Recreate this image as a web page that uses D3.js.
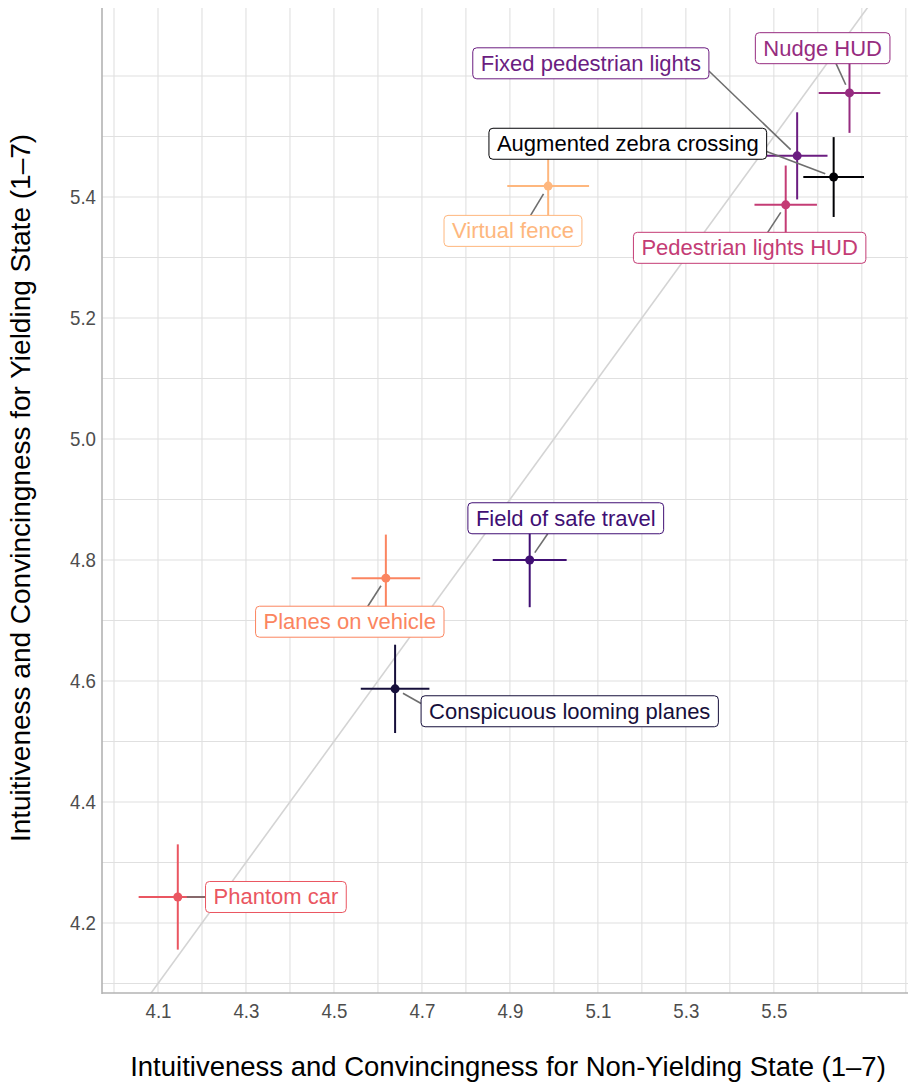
<!DOCTYPE html>
<html>
<head>
<meta charset="utf-8">
<script src="https://cdn.jsdelivr.net/npm/d3@7"></script>
<style>
  body { margin: 0; background: #fff; }
  text { font-family: "Liberation Sans", Arial, sans-serif; }
  .tick-label { font-family: "Liberation Sans", Arial, sans-serif; fill: #4d4d4d; font-size: 21px; }
</style>
</head>
<body>
<svg id="chart"></svg>
<script>
// concepts, alphabetical (colour order follows this)
const concepts = ["Augmented zebra crossing", "Conspicuous looming planes", "Field of safe travel",
  "Fixed pedestrian lights", "Nudge HUD", "Pedestrian lights HUD", "Phantom car",
  "Planes on vehicle", "Virtual fence"];
// mean rating, non-yielding state (x) and yielding state (y)
const nonYielding = [5.636, 4.639, 4.945, 5.553, 5.672, 5.527, 4.145, 4.618, 4.987];
const yielding    = [5.433, 4.587, 4.800, 5.468, 5.572, 5.387, 4.243, 4.770, 5.418];
// error bar half widths
const errX = [0.069, 0.078, 0.084, 0.069, 0.070, 0.071, 0.089, 0.078, 0.093];
const errY = [0.066, 0.073, 0.078, 0.072, 0.066, 0.065, 0.087, 0.072, 0.075];
// where the repelled labels ended up (data units)
const labelX = [5.168, 5.036, 5.027, 5.084, 5.611, 5.445, 4.368, 4.536, 4.907];
const labelY = [5.488, 4.550, 4.869, 5.621, 5.646, 5.316, 4.243, 4.698, 5.344];

const xTicks = [4.1, 4.3, 4.5, 4.7, 4.9, 5.1, 5.3, 5.5];
const yTicks = [4.2, 4.4, 4.6, 4.8, 5.0, 5.2, 5.4];
const xGrid = d3.range(40, 59).map(d => d / 10);
const yGrid = d3.range(41, 57).map(d => d / 10);

const width = 908, height = 1084;
const margin = {top: 8, right: 0, bottom: 91, left: 102};

const svg = d3.select('#chart').attr('width', width).attr('height', height);

const x = d3.scaleLinear().domain([3.9727, 5.805]).range([margin.left, width - margin.right]);
const y = d3.scaleLinear().domain([4.0843, 5.7124]).range([height - margin.bottom, margin.top]);

const colour = d3.scaleOrdinal()
  .domain(concepts)
  .range(concepts.map((c, i) => d3.interpolateMagma(i / (concepts.length - 1) * 0.85)));

svg.append('defs').append('clipPath').attr('id', 'panel')
  .append('rect')
  .attr('x', margin.left).attr('y', margin.top)
  .attr('width', width - margin.left - margin.right)
  .attr('height', height - margin.top - margin.bottom);

// grid
const grid = svg.append('g').attr('stroke', '#e0e0e0').attr('stroke-width', 1.1);
grid.selectAll('.vg').data(xGrid).join('line')
  .attr('x1', d => x(d)).attr('x2', d => x(d))
  .attr('y1', margin.top).attr('y2', height - margin.bottom);
grid.selectAll('.hg').data(yGrid).join('line')
  .attr('y1', d => y(d)).attr('y2', d => y(d))
  .attr('x1', margin.left).attr('x2', width - margin.right);

const panel = svg.append('g').attr('clip-path', 'url(#panel)');

// identity line
panel.append('line')
  .attr('x1', x(3.9)).attr('y1', y(3.9))
  .attr('x2', x(6)).attr('y2', y(6))
  .attr('stroke', '#d4d4d4').attr('stroke-width', 1.6);

// axes lines
svg.append('line').attr('x1', margin.left).attr('x2', margin.left)
  .attr('y1', margin.top).attr('y2', height - margin.bottom + 1)
  .attr('stroke', '#b3b3b3').attr('stroke-width', 1.6);
svg.append('line').attr('x1', margin.left).attr('x2', width)
  .attr('y1', height - margin.bottom).attr('y2', height - margin.bottom)
  .attr('stroke', '#b3b3b3').attr('stroke-width', 1.6);

// tick labels (narrow, like the original)
const xAxis = d3.axisBottom(x).tickValues(xTicks).tickSize(0).tickPadding(10).tickFormat(d3.format('.1f'));
const yAxis = d3.axisLeft(y).tickValues(yTicks).tickSize(0).tickPadding(6).tickFormat(d3.format('.1f'));
const gx = svg.append('g').attr('transform', `translate(0,${height - margin.bottom})`).call(xAxis);
const gy = svg.append('g').attr('transform', `translate(${margin.left},0)`).call(yAxis);
[gx, gy].forEach(g => {
  g.select('.domain').remove();
  g.selectAll('text').attr('class', 'tick-label').attr('fill', null)
    .attr('textLength', 26).attr('lengthAdjust', 'spacingAndGlyphs');
});

// axis titles
svg.append('text')
  .attr('x', 508).attr('y', 1076)
  .attr('text-anchor', 'middle').attr('font-size', 27.5).attr('fill', '#000')
  .text('Intuitiveness and Convincingness for Non-Yielding State (1–7)');
svg.append('text')
  .attr('transform', 'translate(30,488) rotate(-90)')
  .attr('text-anchor', 'middle').attr('font-size', 28).attr('fill', '#000')
  .text('Intuitiveness and Convincingness for Yielding State (1–7)');

const rows = concepts.map((c, i) => ({
  name: c, x: nonYielding[i], y: yielding[i], ex: errX[i], ey: errY[i], lx: labelX[i], ly: labelY[i]
}));

// error bars and points
const marks = panel.append('g');
marks.selectAll('.eh').data(rows).join('line')
  .attr('x1', d => x(d.x - d.ex)).attr('x2', d => x(d.x + d.ex))
  .attr('y1', d => y(d.y)).attr('y2', d => y(d.y))
  .attr('stroke', d => colour(d.name)).attr('stroke-width', 2);
marks.selectAll('.ev').data(rows).join('line')
  .attr('x1', d => x(d.x)).attr('x2', d => x(d.x))
  .attr('y1', d => y(d.y - d.ey)).attr('y2', d => y(d.y + d.ey))
  .attr('stroke', d => colour(d.name)).attr('stroke-width', 2);
marks.selectAll('circle').data(rows).join('circle')
  .attr('cx', d => x(d.x)).attr('cy', d => y(d.y)).attr('r', 4.5)
  .attr('fill', d => colour(d.name));

// labels
const labels = panel.append('g');
const fontSize = 22, padX = 8, boxH = 31;
const clamp = (v, a, b) => Math.max(a, Math.min(b, v));
rows.forEach(d => {
  const g = labels.append('g');
  const cx = x(d.lx), cy = y(d.ly);
  const t = g.append('text').attr('x', cx).attr('y', cy + 7.5)
    .attr('text-anchor', 'middle').attr('font-size', fontSize)
    .attr('fill', colour(d.name)).text(d.name);
  const w = t.node().getComputedTextLength() + padX * 2;
  const b = {x0: cx - w / 2, x1: cx + w / 2, y0: cy - boxH / 2, y1: cy + boxH / 2};

  // connector: nearest box edge, pulled half way towards the edge's middle
  const px = x(d.x), py = y(d.y);
  let ex = clamp(px, b.x0, b.x1), ey = clamp(py, b.y0, b.y1);
  if (px < b.x0 || px > b.x1) ey = (ey + cy) / 2;
  else ex = (ex + cx) / 2;
  const len = Math.hypot(ex - px, ey - py);
  const pad = 9;
  if (len > pad) {
    labels.insert('line', ':first-child')
      .attr('x1', px + (ex - px) * pad / len).attr('y1', py + (ey - py) * pad / len)
      .attr('x2', ex).attr('y2', ey)
      .attr('stroke', '#6e6e6e').attr('stroke-width', 1.6);
  }
  g.insert('rect', 'text')
    .attr('x', b.x0).attr('y', b.y0)
    .attr('width', w).attr('height', boxH).attr('rx', 4)
    .attr('fill', '#fff').attr('stroke', colour(d.name)).attr('stroke-width', 1);
});
</script>
</body>
</html>
